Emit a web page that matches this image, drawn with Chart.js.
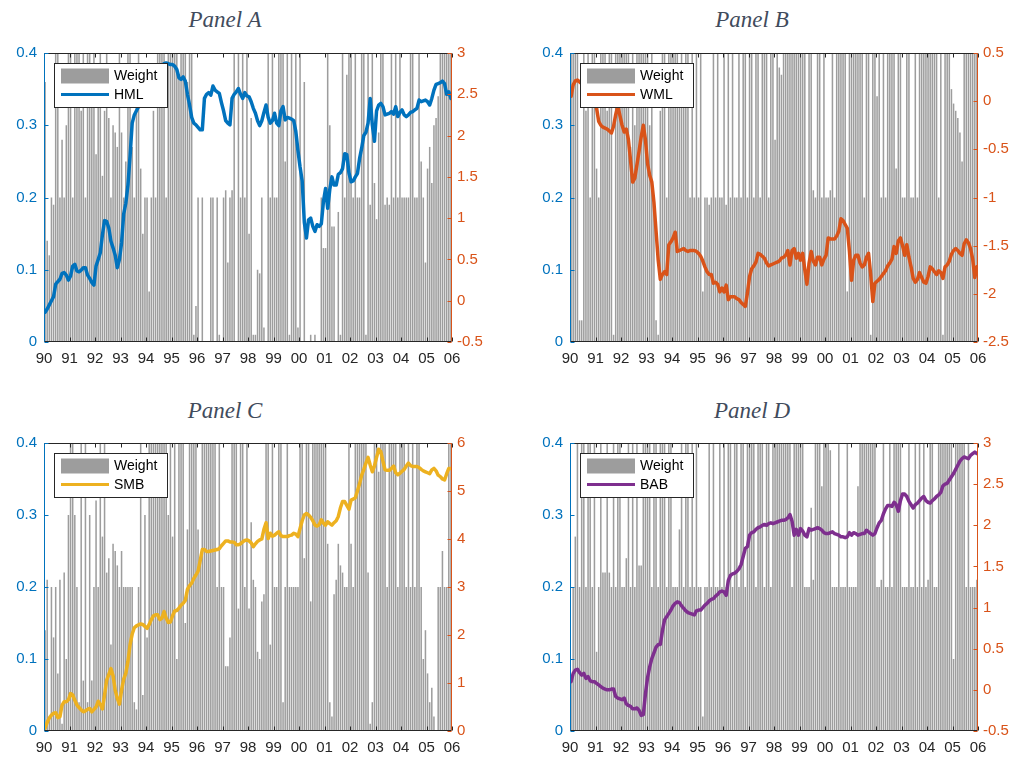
<!DOCTYPE html>
<html>
<head>
<meta charset="utf-8">
<script src="https://cdn.jsdelivr.net/npm/chart.js@4"></script>
<style>
  html, body { margin: 0; padding: 0; background: #fff; }
  body { position: relative; width: 1017px; height: 760px; overflow: hidden; }
  canvas { position: absolute; }
  .panel-title {
    position: absolute; transform: translateX(-50%); white-space: nowrap;
    font: italic 23px "Liberation Serif", "DejaVu Serif", serif; line-height: 1;
    color: #414b5c;
  }
</style>
</head>
<body>
<div class="panel-title" style="left:225px; top:8px;">Panel A</div>
<div class="panel-title" style="left:752px; top:8px;">Panel B</div>
<div class="panel-title" style="left:225px; top:399px;">Panel C</div>
<div class="panel-title" style="left:752px; top:399px;">Panel D</div>

<canvas id="panelA" width="508" height="380" style="left:0; top:0;"></canvas>
<canvas id="panelB" width="507" height="380" style="left:510px; top:0;"></canvas>
<canvas id="panelC" width="508" height="380" style="left:0; top:380px;"></canvas>
<canvas id="panelD" width="507" height="380" style="left:510px; top:380px;"></canvas>

<script>
// Monthly portfolio weights (left axis) and cumulative factor returns (right axis), Jan 1990 - Dec 2005.
const hmlWeight = [
  0.36,0.14,0.12,0.2,0.19,0.5,0.5,0.2,0.28,0.2,0.3,0.5,
  0.5,0.2,0.5,0.5,0.45,0.32,0.5,0.2,0.5,0.5,0.33,0.5,
  0.26,0.33,0.5,0.23,0.32,0.5,0.31,0.2,0.3,0.29,0.27,0.5,
  0.29,0.2,0.25,0.5,0.5,0.27,0.2,0.33,0.5,0.24,0.15,0.2,
  0.2,0.07,0.2,0.32,0.2,0.5,0.5,0.5,0.5,0.2,0.5,0.5,
  0.5,0.5,0.5,0.37,0.5,0.5,0.5,0.36,0.5,0.5,0.01,0.05,
  0.2,0,0.2,0,0,0,0.2,0.2,0,0.2,0.01,0,
  0.2,0.21,0.11,0.2,0.21,0.5,0,0.5,0.2,0.5,0.2,0.5,
  0.15,0.31,0.01,0.01,0.1,0.095,0.2,0.02,0,0.5,0.2,0.5,
  0.2,0.2,0.5,0.5,0.5,0.25,0.5,0.01,0.5,0.3,0.5,0.02,
  0.5,0,0.36,0,0,0.01,0,0.01,0,0,0.2,0.13,
  0.13,0.5,0.3,0.16,0.16,0,0.18,0.01,0.5,0.2,0.37,0.5,
  0.5,0.2,0.5,0.2,0.2,0.5,0.5,0.01,0.5,0.19,0.5,0.22,
  0.17,0.29,0.5,0.5,0.19,0.2,0.19,0.5,0.2,0.5,0.2,0.5,
  0.2,0.2,0.2,0.2,0.5,0.5,0.2,0.2,0.5,0.25,0.2,0.11,
  0.24,0.27,0.22,0.3,0.31,0.34,0.5,0.5,0.5,0.5,0.5,0.5
];
const hml = [
  -0.14,-0.10,-0.05,0.00,0.05,0.20,0.23,0.26,0.33,0.34,0.31,0.25,
  0.30,0.42,0.44,0.36,0.35,0.37,0.40,0.40,0.31,0.27,0.22,0.19,
  0.42,0.50,0.58,0.80,0.97,0.96,0.88,0.72,0.64,0.55,0.40,0.50,
  0.70,1.05,1.18,1.40,1.75,2.15,2.25,2.30,2.35,2.40,2.45,2.50,
  2.55,2.60,2.65,2.70,2.74,2.78,2.82,2.85,2.87,2.88,2.87,2.86,
  2.86,2.84,2.80,2.70,2.68,2.71,2.66,2.50,2.37,2.22,2.15,2.13,
  2.10,2.07,2.07,2.45,2.50,2.52,2.49,2.60,2.55,2.53,2.51,2.40,
  2.30,2.18,2.15,2.13,2.45,2.50,2.53,2.57,2.50,2.45,2.52,2.48,
  2.47,2.41,2.33,2.27,2.18,2.12,2.18,2.28,2.37,2.22,2.15,2.18,
  2.27,2.15,2.12,2.30,2.35,2.19,2.22,2.21,2.20,2.18,2.05,1.82,
  1.62,1.45,0.95,0.76,0.98,1.00,0.90,0.84,0.92,0.90,0.93,1.20,
  1.36,1.12,1.35,1.50,1.40,1.40,1.53,1.55,1.60,1.78,1.77,1.55,
  1.44,1.45,1.50,1.54,1.72,1.85,2.00,2.04,2.15,2.45,2.13,1.93,
  2.30,2.37,2.39,2.35,2.25,2.26,2.27,2.29,2.26,2.35,2.23,2.28,
  2.31,2.25,2.23,2.25,2.28,2.29,2.31,2.33,2.43,2.41,2.42,2.43,
  2.41,2.37,2.45,2.55,2.62,2.63,2.64,2.66,2.63,2.50,2.53,2.45
];

const wmlWeight = [
  0.5,0.5,0.5,0.5,0.03,0.03,0.5,0.32,0.5,0.2,0.5,0.5,
  0.24,0.2,0.5,0.5,0.5,0.32,0.5,0.5,0.01,0.5,0.5,0.5,
  0.5,0.5,0.5,0.5,0.27,0.5,0.3,0.5,0.5,0.5,0.5,0.5,
  0.5,0.3,0.5,0.2,0.03,0.01,0.32,0.5,0.5,0.2,0.5,0.5,
  0.5,0.5,0.5,0.36,0.5,0.34,0.5,0.5,0.2,0.5,0.2,0.5,
  0.2,0.5,0.07,0.2,0.2,0.19,0.2,0.5,0.2,0.5,0.2,0.2,
  0.5,0.19,0.5,0.2,0.5,0.2,0.2,0.5,0.2,0.5,0.5,0.2,
  0.5,0.5,0.2,0.5,0.5,0.2,0.5,0.5,0.5,0.2,0.5,0.5,
  0.28,0.5,0.38,0.37,0.5,0.5,0.5,0.5,0.5,0.5,0.5,0.5,
  0.5,0.5,0.5,0.08,0.5,0.5,0.21,0.2,0.5,0.5,0.2,0.5,
  0.2,0.2,0.21,0.5,0.2,0.5,0.5,0.5,0.5,0.5,0.07,0.5,
  0.5,0.5,0.5,0.5,0.5,0.5,0.2,0.5,0.5,0.01,0.5,0.5,
  0.34,0.5,0.2,0.5,0.2,0.5,0.5,0.5,0.5,0.24,0.5,0.5,
  0.2,0.2,0.5,0.5,0.2,0.2,0.5,0.2,0.5,0.5,0.5,0.5,
  0.5,0.5,0.5,0.5,0.5,0.2,0.5,0.01,0.5,0.5,0.5,0.35,
  0.33,0.32,0.31,0.29,0.25,0.5,0.5,0.5,0.5,0.5,0.5,0.5
];
const wml = [
  0.05,0.17,0.21,0.22,0.20,0.18,0.15,0.10,0.08,0.05,0.00,-0.04,
  -0.07,-0.21,-0.25,-0.27,-0.28,-0.29,-0.31,-0.33,-0.26,-0.14,-0.05,-0.15,
  -0.25,-0.32,-0.29,-0.40,-0.62,-0.84,-0.80,-0.66,-0.52,-0.37,-0.25,-0.40,
  -0.65,-0.77,-0.84,-1.05,-1.35,-1.65,-1.85,-1.80,-1.77,-1.80,-1.49,-1.46,
  -1.42,-1.36,-1.56,-1.55,-1.54,-1.53,-1.55,-1.56,-1.55,-1.55,-1.55,-1.56,
  -1.58,-1.61,-1.66,-1.72,-1.77,-1.80,-1.80,-1.89,-1.88,-1.90,-1.98,-1.94,
  -1.98,-1.91,-2.06,-2.03,-2.03,-2.03,-2.05,-2.06,-2.09,-2.11,-2.13,-1.99,
  -1.82,-1.74,-1.71,-1.67,-1.58,-1.59,-1.61,-1.63,-1.68,-1.71,-1.70,-1.69,
  -1.68,-1.67,-1.66,-1.63,-1.62,-1.60,-1.55,-1.70,-1.55,-1.53,-1.63,-1.58,
  -1.65,-1.58,-1.75,-1.90,-1.68,-1.56,-1.66,-1.70,-1.62,-1.62,-1.70,-1.64,
  -1.60,-1.42,-1.43,-1.43,-1.43,-1.40,-1.35,-1.22,-1.24,-1.28,-1.32,-1.56,
  -1.86,-1.65,-1.60,-1.60,-1.68,-1.72,-1.70,-1.62,-1.58,-1.80,-2.08,-1.89,
  -1.87,-1.85,-1.82,-1.79,-1.76,-1.71,-1.68,-1.64,-1.51,-1.58,-1.45,-1.42,
  -1.50,-1.60,-1.49,-1.62,-1.72,-1.84,-1.88,-1.85,-1.78,-1.83,-1.88,-1.89,
  -1.82,-1.72,-1.74,-1.77,-1.80,-1.76,-1.78,-1.84,-1.72,-1.70,-1.66,-1.59,
  -1.55,-1.53,-1.55,-1.58,-1.60,-1.48,-1.44,-1.47,-1.53,-1.64,-1.83,-1.72
];

const smbWeight = [
  0.14,0.21,0.02,0.2,0.13,0.2,0.08,0.21,0.01,0.22,0.1,0.3,
  0.5,0.5,0.3,0.2,0.04,0.5,0.07,0.5,0.04,0.3,0.07,0.2,
  0.32,0.2,0.5,0.27,0.5,0.22,0.24,0.12,0.26,0.25,0.23,0.2,
  0.25,0.2,0.2,0.2,0.2,0.2,0.04,0.03,0.2,0.5,0.05,0.3,
  0.13,0.5,0.5,0.5,0.5,0.5,0.5,0.5,0.5,0.5,0.3,0.5,
  0.27,0.5,0.1,0.5,0.5,0.5,0.15,0.28,0.5,0.5,0.5,0.5,
  0.28,0.24,0.5,0.5,0.5,0.5,0.5,0.5,0.5,0.2,0.5,0.2,
  0.2,0.09,0.09,0.13,0.5,0.5,0.5,0.17,0.5,0.5,0.2,0.5,
  0.17,0.29,0.21,0.2,0.11,0.1,0.18,0.19,0.5,0.5,0.12,0.5,
  0.2,0.2,0.5,0.5,0.04,0.2,0.5,0.2,0.2,0.2,0.2,0.2,
  0.5,0.5,0.24,0.5,0.5,0.18,0.5,0.5,0.5,0.5,0.5,0.5,
  0.5,0.26,0.04,0.02,0.19,0.21,0.26,0.23,0.22,0.2,0.2,0.5,
  0.26,0.2,0.5,0.5,0.5,0.5,0.5,0.5,0.22,0.01,0.04,0.5,
  0.5,0.36,0.5,0.5,0.5,0.2,0.5,0.5,0.5,0.5,0.2,0.5,
  0.5,0.5,0.2,0.5,0.2,0.5,0.2,0.5,0.5,0.2,0.1,0.14,
  0.08,0.04,0.06,0.02,0.0,0.2,0.2,0.25,0.2,0.2,0.5,0.5
];
const smb = [
  0.06,0.18,0.27,0.33,0.37,0.38,0.28,0.30,0.54,0.61,0.61,0.65,
  0.78,0.75,0.64,0.54,0.49,0.44,0.40,0.42,0.45,0.47,0.40,0.45,
  0.50,0.62,0.55,0.46,0.75,1.06,1.18,1.30,1.15,0.85,0.68,0.56,
  0.85,1.08,1.20,1.45,1.80,2.02,2.15,2.19,2.21,2.23,2.22,2.18,
  2.14,2.22,2.32,2.40,2.42,2.42,2.32,2.35,2.49,2.35,2.26,2.27,
  2.40,2.50,2.51,2.56,2.62,2.66,2.72,2.95,3.03,3.08,3.18,3.25,
  3.33,3.55,3.78,3.78,3.74,3.74,3.75,3.76,3.77,3.78,3.80,3.86,
  3.91,3.96,3.96,3.94,3.94,3.93,3.88,3.88,3.90,3.94,3.97,3.98,
  3.96,3.92,3.84,3.90,3.95,3.98,4.00,4.20,4.34,4.01,4.12,4.06,
  4.08,4.12,4.15,4.07,4.05,4.05,4.05,4.07,4.08,4.12,4.10,4.05,
  4.22,4.38,4.50,4.53,4.50,4.45,4.38,4.29,4.27,4.30,4.40,4.33,
  4.29,4.36,4.32,4.29,4.34,4.38,4.47,4.65,4.78,4.78,4.70,4.62,
  4.81,4.83,4.86,5.00,5.15,5.33,5.45,5.58,5.70,5.54,5.40,5.52,
  5.70,5.87,5.82,5.62,5.44,5.43,5.43,5.47,5.52,5.38,5.34,5.37,
  5.41,5.45,5.52,5.58,5.53,5.51,5.51,5.51,5.49,5.45,5.42,5.40,
  5.38,5.36,5.44,5.47,5.42,5.33,5.30,5.25,5.23,5.36,5.47,5.47
];

const babWeight = [
  0.07,0.2,0.27,0.5,0.2,0.5,0.5,0.2,0.5,0.5,0.2,0.5,
  0.11,0.2,0.5,0.22,0.22,0.5,0.22,0.2,0.5,0.2,0.5,0.5,
  0.2,0.2,0.24,0.5,0.2,0.5,0.2,0.5,0.23,0.23,0.5,0.5,
  0.5,0.5,0.2,0.5,0.5,0.2,0.5,0.5,0.5,0.2,0.5,0.5,
  0.2,0.2,0.2,0.28,0.5,0.2,0.5,0.5,0.2,0.5,0.2,0.5,
  0.2,0.2,0.02,0.2,0.2,0.5,0.2,0.5,0.2,0.2,0.5,0.2,
  0.5,0.2,0.5,0.5,0.2,0.5,0.5,0.2,0.5,0.5,0.2,0.5,
  0.5,0.5,0.5,0.2,0.5,0.5,0.5,0.2,0.5,0.5,0.2,0.5,
  0.5,0.5,0.5,0.5,0.5,0.5,0.5,0.5,0.2,0.5,0.5,0.5,
  0.5,0.5,0.2,0.2,0.2,0.31,0.21,0.5,0.5,0.5,0.34,0.5,
  0.5,0.5,0.39,0.2,0.2,0.2,0.5,0.2,0.2,0.2,0.5,0.2,
  0.2,0.2,0.2,0.34,0.5,0.5,0.5,0.5,0.5,0.5,0.5,0.5,
  0.2,0.2,0.21,0.5,0.2,0.2,0.5,0.2,0.5,0.5,0.5,0.5,
  0.2,0.2,0.2,0.5,0.2,0.2,0.5,0.2,0.5,0.2,0.5,0.2,
  0.21,0.5,0.5,0.2,0.2,0.5,0.5,0.5,0.5,0.5,0.5,0.5,
  0.1,0.5,0.5,0.5,0.5,0.5,0.2,0.5,0.2,0.2,0.2,0.21
];
const bab = [
  0.10,0.20,0.24,0.25,0.21,0.18,0.20,0.14,0.16,0.11,0.10,0.10,
  0.08,0.06,0.04,0.02,0.01,0.00,0.00,0.01,0.01,-0.08,-0.10,-0.11,
  -0.12,-0.10,-0.17,-0.19,-0.20,-0.23,-0.23,-0.22,-0.25,-0.31,-0.30,-0.05,
  0.15,0.28,0.38,0.45,0.52,0.55,0.55,0.72,0.85,0.89,0.93,0.97,
  1.02,1.05,1.07,1.06,1.02,0.99,0.96,0.94,0.93,0.92,0.91,0.96,
  0.97,0.97,1.00,1.03,1.05,1.08,1.10,1.11,1.14,1.16,1.19,1.20,
  1.19,1.15,1.33,1.39,1.41,1.42,1.44,1.47,1.52,1.62,1.72,1.74,
  1.88,1.91,1.92,1.95,1.97,1.98,2.00,2.01,2.00,2.02,2.03,2.02,
  2.03,2.04,2.05,2.06,2.06,2.07,2.09,2.13,2.05,1.88,1.95,1.88,
  1.96,1.93,1.88,1.86,1.96,1.94,1.95,1.96,1.97,1.96,1.94,1.91,
  1.90,1.90,1.91,1.92,1.90,1.89,1.88,1.86,1.86,1.85,1.86,1.91,
  1.88,1.91,1.90,1.88,1.89,1.90,1.90,1.94,1.92,1.90,1.88,1.90,
  1.97,2.03,2.06,2.14,2.20,2.24,2.24,2.23,2.28,2.25,2.17,2.30,
  2.38,2.38,2.35,2.29,2.25,2.21,2.25,2.27,2.30,2.33,2.35,2.30,
  2.28,2.27,2.30,2.32,2.35,2.37,2.40,2.48,2.50,2.51,2.55,2.59,
  2.63,2.68,2.73,2.78,2.81,2.83,2.82,2.81,2.85,2.87,2.89,2.87
];

// Right-axis ranges for each panel
const rightRanges = {
  A: { min: -0.5, max: 3, step: 0.5 },
  B: { min: -2.5, max: 0.5, step: 0.5 },
  C: { min: 0, max: 6, step: 1 },
  D: { min: -0.5, max: 3, step: 0.5 }
};

const LEFT_COLOR = '#0072BD';
const RIGHT_COLOR = '#D95319';
const AXIS_DARK = '#262626';
const BAR_COLOR = '#9d9d9d';

// x position of each monthly observation (mid-month, in fractional years)
const monthX = hmlWeight.map((_, i) => 1990 + (i + 0.5) / 12);

Chart.defaults.font.family = '"Liberation Sans", Arial, sans-serif';
Chart.defaults.animation = false;

function fmt(v) { return String(+v.toFixed(2)); }

// Box, inward tick marks and coloured spines drawn over the data area, plus the in-plot legend.
const frameAndLegend = {
  id: 'frameAndLegend',
  afterDatasetsDraw(chart) {
    const { ctx, chartArea: a, scales } = chart;
    const L = Math.round(a.left) + 0.5, R = Math.round(a.right) - 0.5;
    const T = Math.round(a.top) + 0.5, B = Math.round(a.bottom) - 0.5;
    const tl = 4;
    ctx.save();
    ctx.lineWidth = 1;

    ctx.strokeStyle = AXIS_DARK;
    ctx.beginPath();
    ctx.moveTo(L, T); ctx.lineTo(R, T);
    ctx.moveTo(L, B); ctx.lineTo(R, B);
    scales.x.ticks.forEach(t => {
      const px = Math.round(scales.x.getPixelForValue(t.value)) + 0.5;
      ctx.moveTo(px, B); ctx.lineTo(px, B - tl);
      ctx.moveTo(px, T); ctx.lineTo(px, T + tl);
    });
    ctx.stroke();

    ctx.strokeStyle = LEFT_COLOR;
    ctx.beginPath();
    ctx.moveTo(L, T); ctx.lineTo(L, B);
    scales.y.ticks.forEach(t => {
      const py = Math.round(scales.y.getPixelForValue(t.value)) + 0.5;
      ctx.moveTo(L, py); ctx.lineTo(L + tl, py);
    });
    ctx.stroke();

    ctx.strokeStyle = RIGHT_COLOR;
    ctx.beginPath();
    ctx.moveTo(R, T); ctx.lineTo(R, B);
    scales.y1.ticks.forEach(t => {
      const py = Math.round(scales.y1.getPixelForValue(t.value)) + 0.5;
      ctx.moveTo(R, py); ctx.lineTo(R - tl, py);
    });
    ctx.stroke();
    ctx.restore();
  },
  afterDraw(chart) {
    const { ctx, chartArea: a } = chart;
    const lineDs = chart.data.datasets.find(d => d.type === 'line');
    const bx = Math.round(a.left) + 10.5, by = Math.round(a.top) + 10.5;
    const bw = 113, bh = 44;
    ctx.save();
    ctx.fillStyle = '#fff';
    ctx.fillRect(bx, by, bw, bh);
    ctx.strokeStyle = AXIS_DARK;
    ctx.lineWidth = 1;
    ctx.strokeRect(bx, by, bw, bh);
    ctx.fillStyle = BAR_COLOR;
    ctx.fillRect(bx + 6.5, by + 5, 48, 15);
    ctx.strokeStyle = lineDs.borderColor;
    ctx.lineWidth = 3;
    ctx.beginPath();
    ctx.moveTo(bx + 6.5, by + 31); ctx.lineTo(bx + 54.5, by + 31);
    ctx.stroke();
    ctx.fillStyle = '#000';
    ctx.font = '14px "Liberation Sans", Arial, sans-serif';
    ctx.textBaseline = 'middle';
    ctx.fillText('Weight', bx + 59.5, by + 13);
    ctx.fillText(lineDs.label, bx + 59.5, by + 31.5);
    ctx.restore();
  }
};

function makePanel(id, label, color, weights, series, range, layout) {
  new Chart(document.getElementById(id), {
    type: 'bar',
    data: {
      datasets: [
        {
          type: 'line', label, yAxisID: 'y1', order: 0,
          data: series.map((v, i) => ({ x: monthX[i], y: v })),
          borderColor: color, borderWidth: 3.5, pointRadius: 0, tension: 0,
          borderJoinStyle: 'round', borderCapStyle: 'round'
        },
        {
          type: 'bar', label: 'Weight', yAxisID: 'y', order: 1,
          data: weights.map((v, i) => ({ x: monthX[i], y: v })),
          backgroundColor: BAR_COLOR, borderWidth: 0,
          barPercentage: 0.72, categoryPercentage: 1
        }
      ]
    },
    options: {
      responsive: false,
      animation: false,
      layout: { padding: { top: layout.top, left: 0, right: 0, bottom: 0 } },
      plugins: { legend: { display: false }, tooltip: { enabled: false }, title: { display: false } },
      scales: {
        x: {
          type: 'linear', min: 1990, max: 2006, offset: false,
          grid: { display: false, drawTicks: false }, border: { display: false },
          ticks: {
            stepSize: 1, autoSkip: false, maxRotation: 0, padding: 8,
            color: AXIS_DARK, font: { size: 15 },
            callback: v => String(v % 100).padStart(2, '0')
          },
          afterFit: s => { s.height = layout.xh; }
        },
        y: {
          position: 'left', min: 0, max: 0.4,
          grid: { display: false, drawTicks: false }, border: { display: false },
          ticks: { stepSize: 0.1, padding: 7, color: LEFT_COLOR, font: { size: 15 }, callback: fmt },
          afterFit: s => { s.width = layout.lw; }
        },
        y1: {
          position: 'right', min: range.min, max: range.max,
          grid: { display: false, drawTicks: false }, border: { display: false },
          ticks: { stepSize: range.step, padding: 5, color: RIGHT_COLOR, font: { size: 15 }, callback: fmt },
          afterFit: s => { s.width = layout.rw; }
        }
      }
    },
    plugins: [frameAndLegend]
  });
}

makePanel('panelA', 'HML', '#0072BD', hmlWeight, hml, rightRanges.A, { top: 53, xh: 38, lw: 44, rw: 56 });
makePanel('panelB', 'WML', '#D95319', wmlWeight, wml, rightRanges.B, { top: 53, xh: 38, lw: 60, rw: 39 });
makePanel('panelC', 'SMB', '#EDB120', smbWeight, smb, rightRanges.C, { top: 63, xh: 29, lw: 44, rw: 56 });
makePanel('panelD', 'BAB', '#7E2F8E', babWeight, bab, rightRanges.D, { top: 63, xh: 29, lw: 60, rw: 39 });
</script>
</body>
</html>
